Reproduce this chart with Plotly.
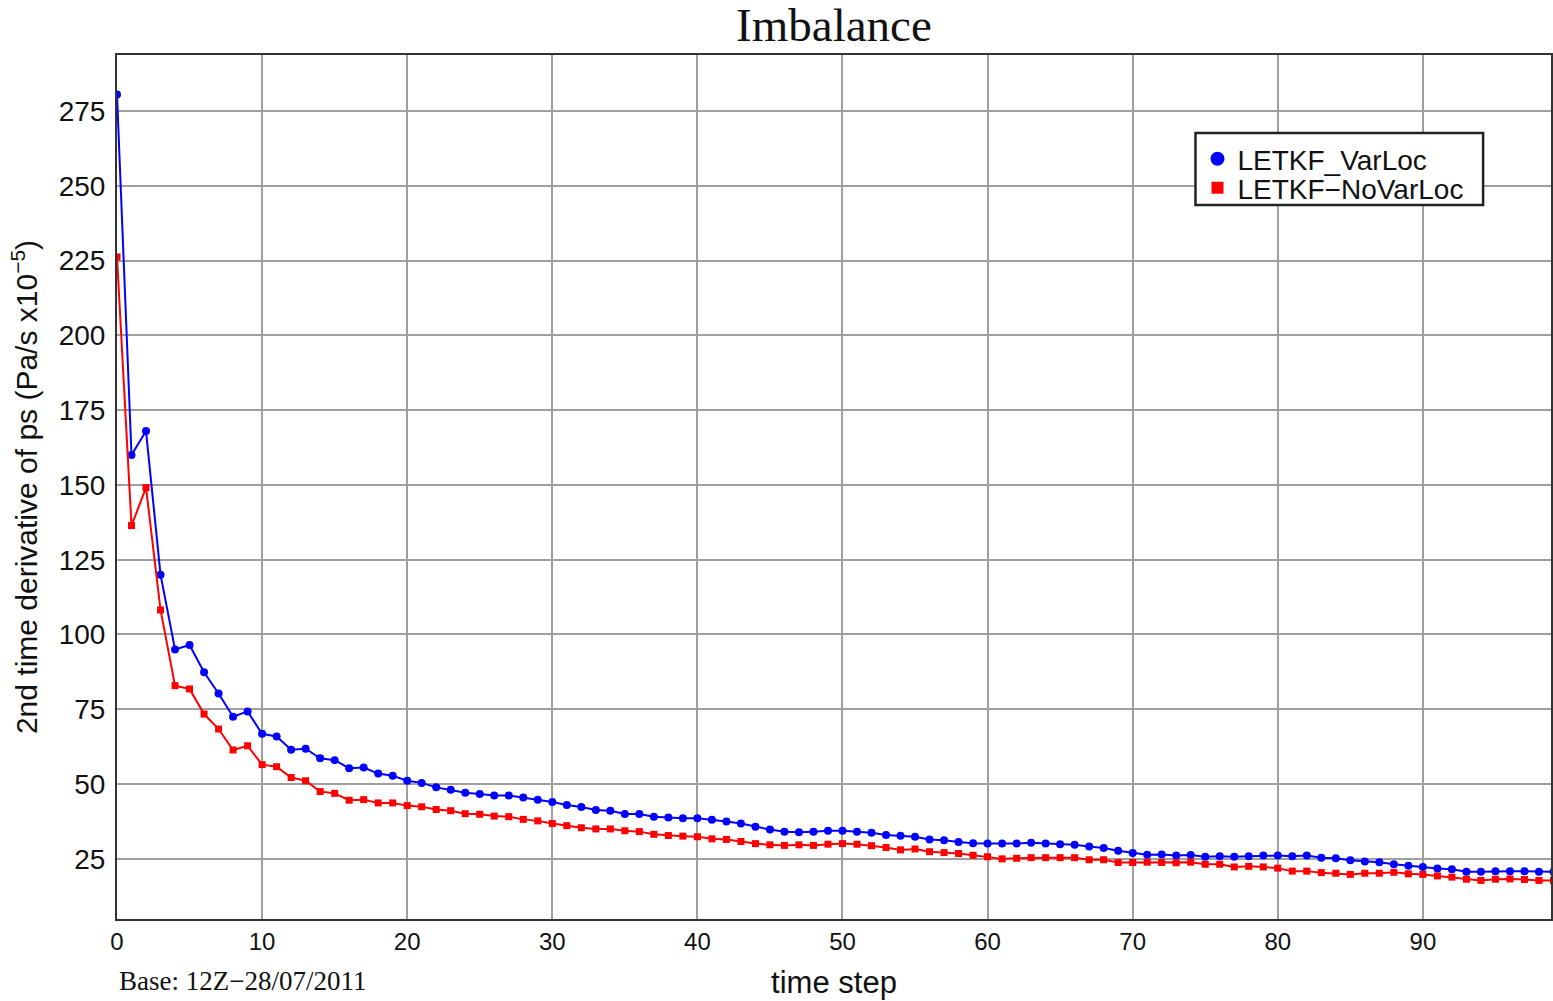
import plotly.graph_objects as go

time_step = list(range(100))

letkf_varloc = [280.5, 160, 168, 120, 95, 96.5, 87.4, 80.3, 72.5, 74.3,
                66.8, 65.9, 61.5, 61.8, 58.6, 58.0, 55.3, 55.5, 53.5, 52.8,
                51.1, 50.4, 48.9, 48.1, 47.1, 46.7, 46.2, 46.2, 45.5, 44.8,
                44.0, 43.0, 42.3, 41.3, 41.1, 40.0, 40.0, 39.1, 38.8, 38.6,
                38.6, 38.1, 37.5, 36.8, 35.7, 34.8, 34.1, 33.9, 34.1, 34.4,
                34.4, 34.1, 33.7, 33.0, 32.7, 32.4, 31.5, 31.2, 30.6, 30.2,
                30.1, 30.1, 30.1, 30.4, 30.1, 29.9, 29.7, 29.1, 28.6, 27.7,
                27.0, 26.4, 26.5, 26.1, 26.3, 25.7, 25.9, 25.7, 25.9, 26.1,
                26.1, 25.9, 26.1, 25.4, 25.2, 24.5, 24.1, 23.9, 23.2, 22.7,
                22.3, 21.8, 21.5, 20.7, 20.7, 20.9, 20.9, 20.9, 20.7, 20.7]

letkf_novarloc = [226.2, 136.4, 149.1, 108.2, 82.9, 81.8, 73.4, 68.4, 61.4, 62.8,
                  56.5, 55.8, 52.2, 51.1, 47.5, 46.9, 44.6, 44.8, 43.7, 43.7,
                  42.8, 42.4, 41.5, 41.1, 40.1, 39.9, 39.3, 39.1, 38.2, 37.7,
                  36.8, 36.1, 35.4, 35.0, 35.0, 34.4, 34.1, 33.2, 32.8, 32.6,
                  32.4, 31.7, 31.5, 30.8, 30.1, 29.7, 29.5, 29.7, 29.5, 29.9,
                  30.1, 29.9, 29.4, 28.8, 28.0, 28.3, 27.4, 27.1, 26.8, 26.2,
                  25.7, 25.0, 25.2, 25.4, 25.4, 25.4, 25.4, 24.7, 24.7, 23.8,
                  23.8, 23.9, 23.8, 23.7, 23.9, 23.2, 23.2, 22.3, 22.5, 22.3,
                  21.9, 20.9, 20.9, 20.4, 20.2, 19.8, 20.2, 20.2, 20.5, 20.0,
                  19.8, 19.3, 18.9, 18.2, 17.8, 18.2, 18.3, 18.1, 17.8, 17.8]

x_ticks = [0, 10, 20, 30, 40, 50, 60, 70, 80, 90]
y_ticks = [25, 50, 75, 100, 125, 150, 175, 200, 225, 250, 275]

BLUE = "#0000ff"
RED = "#ff0000"
INK = "#111111"

fig = go.Figure()
fig.add_trace(go.Scatter(x=time_step, y=letkf_varloc, mode="lines+markers",
                         line=dict(color=BLUE, width=2),
                         marker=dict(color=BLUE, size=8, symbol="circle"),
                         showlegend=False))
fig.add_trace(go.Scatter(x=time_step, y=letkf_novarloc, mode="lines+markers",
                         line=dict(color=RED, width=2),
                         marker=dict(color=RED, size=7, symbol="square"),
                         showlegend=False))
# legend entries (markers only), one per legend so the rows sit close together
fig.add_trace(go.Scatter(x=[None], y=[None], mode="markers", name="LETKF_VarLoc",
                         marker=dict(color=BLUE, size=14, symbol="circle"),
                         legend="legend"))
fig.add_trace(go.Scatter(x=[None], y=[None], mode="markers", name="LETKF\u2212NoVarLoc",
                         marker=dict(color=RED, size=12, symbol="square"),
                         legend="legend2"))

axis_common = dict(showline=True, linecolor="#333333", linewidth=2, mirror=True,
                   showgrid=True, gridcolor="#a0a0a0", gridwidth=1.5,
                   zeroline=False, ticks="")

legend_common = dict(x=(1199 - 117) / 1436, xanchor="left", yanchor="middle",
                     bgcolor="rgba(0,0,0,0)", borderwidth=0,
                     font=dict(family="Liberation Sans", size=28, color=INK),
                     itemwidth=30)

fig.update_layout(
    width=1553, height=1001,
    margin=dict(l=117, r=0, t=55, b=82),
    plot_bgcolor="white", paper_bgcolor="white",
    title=dict(text="Imbalance", x=0.537, xanchor="center",
               y=1 - 25 / 1001, yanchor="middle", yref="container",
               font=dict(family="Liberation Serif", size=47, color=INK)),
    xaxis=dict(range=[0, 98.83], tickvals=x_ticks,
               tickfont=dict(family="Liberation Sans", size=24, color=INK),
               title=dict(text="time step", standoff=18,
                          font=dict(family="Liberation Sans", size=31, color=INK)),
               **axis_common),
    yaxis=dict(range=[4.9, 293.7], tickvals=y_ticks, ticklabelstandoff=4,
               tickfont=dict(family="Liberation Sans", size=28, color=INK),
               title=dict(text="2nd time derivative of ps (Pa/s x10<sup>\u22125</sup>)", standoff=12,
                          font=dict(family="Liberation Sans", size=30, color=INK)),
               **axis_common),
    legend=dict(y=(919 - 159) / 864, **legend_common),
    legend2=dict(y=(919 - 188) / 864, **legend_common),
    shapes=[dict(type="rect", xref="paper", yref="paper",
                 x0=(1197 - 117) / 1436, x1=(1485 - 117) / 1436,
                 y0=(919 - 205) / 864, y1=(919 - 133) / 864,
                 line=dict(color="#222222", width=2.5), fillcolor="white",
                 layer="above")],
    annotations=[dict(text="Base: 12Z\u221228/07/2011", x=0, xref="paper", xanchor="left",
                      y=-0.072, yref="paper", yanchor="middle", showarrow=False,
                      font=dict(family="Liberation Serif", size=27, color=INK))],
)

fig.write_html("out.html")
